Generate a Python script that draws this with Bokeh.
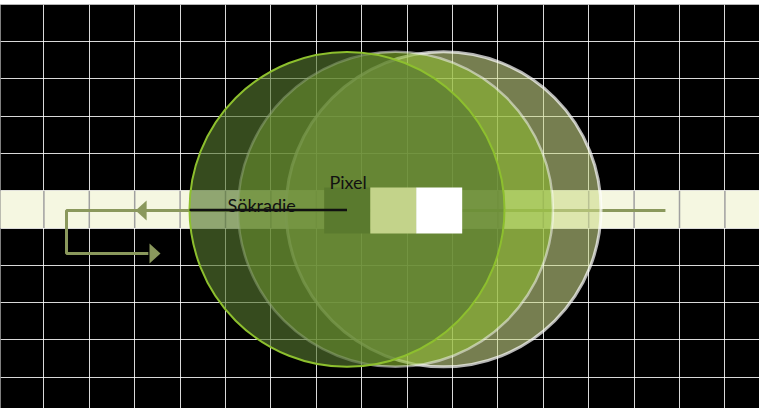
from bokeh.plotting import figure
from bokeh.models import Range1d, FixedTicker, ColumnDataSource
from bokeh.embed import file_html
from bokeh.resources import INLINE
from bokeh.core.properties import value

# ---- data (grid units: one column / one row of the raster) ----
grid_cols = list(range(0, 18))
grid_rows = list(range(0, 12))
band_rows = [5.0, 6.0]                      # highlighted raster row
band_span = [0.0, 17.0]

# search circles (drawn right -> left so the left one is on top)
circle_names = ["C", "B", "A"]
circle_x = [9.802, 8.744, 7.676]
circle_y = [5.5, 5.5, 5.5]
circle_r = 3.469
circle_fill = ["#cbd98a", "#8ab72f", "#557730"]
circle_fill_alpha = [0.58, 0.6, 0.63]
circle_line = ["#ffffff", "#ffffff", "#8dbf2e"]
circle_line_alpha = [0.7, 0.5, 1.0]

# pixels
pixel_x = [7.68, 8.696, 9.707]
pixel_y = [5.528, 5.528, 5.528]
pixel_w = 1.013
pixel_h = 1.233
pixel_colors = ["#5a7a2e", "#c3d38a", "#ffffff"]

# scan path
path_x = [14.69, 1.498, 1.498, 3.30]
path_y = [5.53, 5.53, 6.684, 6.684]
head_left = (3.02, 5.53)
head_right = (3.568, 6.684)

labels = ["Pixel", "Sökradie"]
label_x = [7.29, 5.044]
label_y = [4.78, 5.378]

# ---- figure ----
px_per_x = 45.4
px_per_y = 37.3
p = figure(width=759, height=408, output_backend="svg", toolbar_location=None,
           x_range=Range1d(2 / px_per_x, 761 / px_per_x),
           y_range=Range1d((416 - 11.7) / px_per_y, (12 - 11.7) / px_per_y),
           min_border_left=0, min_border_right=0, min_border_top=4, min_border_bottom=0)
p.background_fill_color = "black"
p.border_fill_color = "white"
p.outline_line_color = None
p.xaxis.visible = False
p.yaxis.visible = False
p.xgrid.ticker = FixedTicker(ticks=grid_cols)
p.ygrid.ticker = FixedTicker(ticks=grid_rows)
for g in (p.xgrid, p.ygrid):
    g.grid_line_color = "white"
    g.grid_line_alpha = 0.85
    g.grid_line_width = 1

# band
p.quad(left=[band_span[0]], right=[band_span[1]], top=[band_rows[0]], bottom=[band_rows[1]],
       fill_color="#f5f7e1", line_color=None)
# gray grid over band
p.segment(x0=grid_cols, x1=grid_cols, y0=[band_rows[0]] * len(grid_cols), y1=[band_rows[1]] * len(grid_cols),
          line_color="#a0a0a0", line_width=1.5)

# scan path with arrowheads
olive = "#8a985c"
p.line(path_x, path_y, line_color=olive, line_width=3)
L = 11 / px_per_x
H = 10 / px_per_y
p.patches(xs=[[head_left[0], head_left[0] + L, head_left[0] + L],
              [head_right[0], head_right[0] - L, head_right[0] - L]],
          ys=[[head_left[1], head_left[1] - H, head_left[1] + H],
              [head_right[1], head_right[1] - H, head_right[1] + H]],
          fill_color=olive, line_color=None)

# circles
src = ColumnDataSource(dict(x=circle_x, y=circle_y, fill=circle_fill, fa=circle_fill_alpha,
                            lc=circle_line, la=circle_line_alpha, lw=[3, 2.5, 2]))
p.circle(x="x", y="y", radius=circle_r, fill_color="fill", fill_alpha="fa",
         line_color="lc", line_alpha="la", line_width="lw", source=src)

# pixels
p.rect(x=pixel_x, y=pixel_y, width=pixel_w, height=pixel_h, fill_color=pixel_colors, line_color=None)

# search radius line
a = circle_names.index("A")
p.segment(x0=[circle_x[a] - circle_r], x1=[circle_x[a]], y0=[circle_y[a] + 0.02], y1=[circle_y[a] + 0.02],
          line_color="#111111", line_width=2.5)

p.text(x=label_x, y=label_y, text=labels, text_font=value("Lato"), text_font_size="18px",
       text_baseline="alphabetic", text_align="left", text_color="#111111")

open("out.html", "w").write(file_html(p, INLINE))
